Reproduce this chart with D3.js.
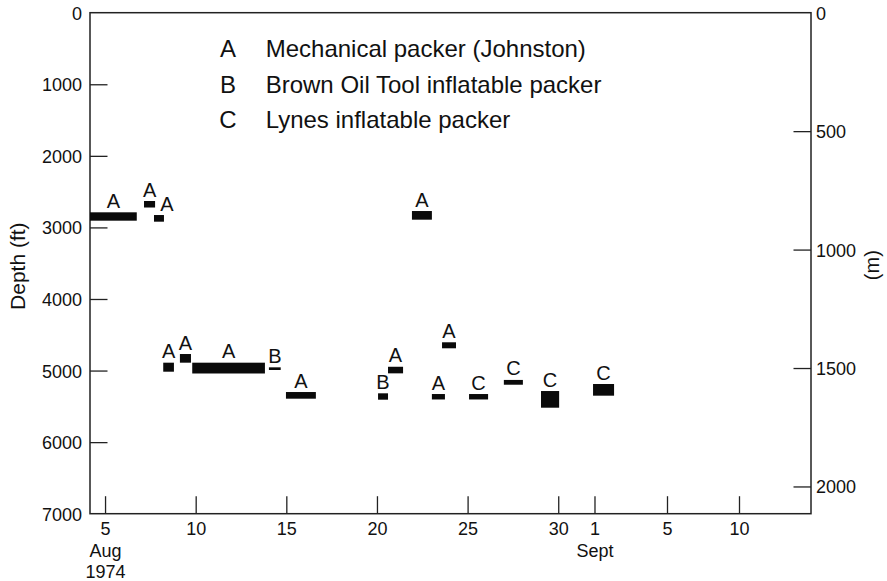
<!DOCTYPE html>
<html lang="en">
<head>
<meta charset="UTF-8"/>
<title>Packer test depths, Aug - Sept 1974</title>
<script src="https://d3js.org/d3.v7.min.js"></script>
<style>
    html, body { margin: 0; padding: 0; background: #fff; }
    svg { display: block; }
    text { font-family: "Liberation Sans", Arial, Helvetica, sans-serif; fill: #111; }
</style>
</head>
<body>
<div id="chart"></div>
<script>
    // Days counted from 1 Aug 1974 (Aug 31 = 31, Sept 1 = 32)
    const packerType = ["A", "A", "A", "A", "A", "A", "B", "A", "B", "A", "A", "A", "A", "C", "C", "C", "C"];
    const startDay = [4.17, 7.15, 7.70, 8.21, 9.13, 9.81, 14.04, 14.98, 20.06, 20.61, 21.93, 23.59, 23.03, 25.08, 27.00, 29.05, 31.92];
    const endDay   = [6.75, 7.76, 8.25, 8.80, 9.74, 13.82, 14.69, 16.63, 20.61, 21.44, 23.03, 24.36, 23.75, 26.13, 28.05, 30.05, 33.08];
    const topFt    = [2789, 2631, 2827, 4890, 4769, 4890, 4955, 5300, 5318, 4947, 2771, 4605, 5328, 5328, 5131, 5286, 5188];
    const bottomFt = [2906, 2722, 2920, 5016, 4890, 5041, 4992, 5393, 5407, 5039, 2892, 4689, 5404, 5404, 5198, 5519, 5351];

    // legend
    const legendCodes = ["A", "B", "C"];
    const legendNames = ["Mechanical packer (Johnston)", "Brown Oil Tool inflatable packer", "Lynes inflatable packer"];

    // axes
    const tickDays = [5, 10, 15, 20, 25, 30, 32, 36, 41];
    const tickLabels = ["5", "10", "15", "20", "25", "30", "1", "5", "10"];
    const tickSubLabels = [["Aug", "1974"], [], [], [], [], [], ["Sept"], [], []];
    const ftTicks = [0, 1000, 2000, 3000, 4000, 5000, 6000, 7000];
    const mTicks = [0, 500, 1000, 1500, 2000];

    const w = 887, h = 581;
    const plotLeft = 90, plotRight = 811, plotTop = 12.7, plotBottom = 513.7;
    const tickLen = 17.5;

    const svg = d3.select("#chart").append("svg")
        .attr("width", w)
        .attr("height", h);

    // the date axis of the original drawing is slightly uneven after 5 Sept
    const x = d3.scaleLinear().domain([4.17, 36, 46]).range([plotLeft, 667, plotRight]);
    const y = d3.scaleLinear().domain([0, 7000]).range([plotTop, plotBottom]);
    const yM = d3.scaleLinear().domain([0, 2115]).range([plotTop, plotBottom]);

    // left axis (ft)
    const gLeft = svg.append("g")
        .attr("transform", `translate(${plotLeft},0)`)
        .call(d3.axisLeft(y).tickValues(ftTicks).tickFormat(d3.format("d"))
            .tickSizeInner(-tickLen).tickSizeOuter(0).tickPadding(8));
    gLeft.selectAll(".tick text").attr("font-size", 18).attr("dy", "0.36em");
    gLeft.selectAll(".tick").filter(d => d === 0 || d === 7000).select("line").remove();

    // right axis (m)
    const gRight = svg.append("g")
        .attr("transform", `translate(${plotRight},0)`)
        .call(d3.axisRight(yM).tickValues(mTicks).tickFormat(d3.format("d"))
            .tickSizeInner(-tickLen).tickSizeOuter(0).tickPadding(5));
    gRight.selectAll(".tick text").attr("font-size", 18).attr("dy", "0.36em");
    gRight.selectAll(".tick").filter(d => d === 0).select("line").remove();

    // bottom axis (dates)
    const gBottom = svg.append("g")
        .attr("transform", `translate(0,${plotBottom})`)
        .call(d3.axisBottom(x).tickValues(tickDays).tickFormat((d, i) => tickLabels[i])
            .tickSizeInner(-tickLen).tickSizeOuter(0).tickPadding(9));
    gBottom.selectAll(".tick text").attr("font-size", 18);
    gBottom.selectAll(".tick").each(function(d, i) {
        tickSubLabels[i].forEach((s, j) => {
            d3.select(this).append("text")
                .attr("y", 43 + j * 21)
                .attr("text-anchor", "middle")
                .attr("font-size", 18)
                .text(s);
        });
    });

    svg.selectAll(".domain").remove();
    svg.selectAll(".tick line").attr("stroke", "#222").attr("stroke-width", 1.3);
    svg.selectAll(".tick text").attr("fill", "#111");

    // frame
    svg.append("rect")
        .attr("x", plotLeft).attr("y", plotTop)
        .attr("width", plotRight - plotLeft).attr("height", plotBottom - plotTop)
        .attr("fill", "none")
        .attr("stroke", "#222")
        .attr("stroke-width", 1.5);

    // axis titles
    svg.append("text")
        .attr("transform", `translate(25,${(plotTop + plotBottom) / 2 + 3}) rotate(-90)`)
        .attr("text-anchor", "middle")
        .attr("font-size", 21)
        .text("Depth (ft)");

    svg.append("text")
        .attr("transform", `translate(879,${(plotTop + plotBottom) / 2 + 2}) rotate(-90)`)
        .attr("text-anchor", "middle")
        .attr("font-size", 20)
        .text("(m)");

    // legend
    const legend = svg.append("g");
    legendCodes.forEach((c, i) => {
        legend.append("text")
            .attr("x", 228).attr("y", 56.7 + i * 35.8)
            .attr("text-anchor", "middle")
            .attr("font-size", 24)
            .text(c);
        legend.append("text")
            .attr("x", 265.7).attr("y", 56.7 + i * 35.8)
            .attr("font-size", 24)
            .text(legendNames[i]);
    });

    // packer intervals
    const tests = packerType.map((p, i) => ({
        type: p, start: startDay[i], end: endDay[i], top: topFt[i], bottom: bottomFt[i]
    }));

    svg.append("g").selectAll("rect")
        .data(tests)
        .enter()
        .append("rect")
        .attr("x", d => x(d.start))
        .attr("y", d => y(d.top))
        .attr("width", d => x(d.end) - x(d.start))
        .attr("height", d => y(d.bottom) - y(d.top))
        .attr("fill", "#0a0a0a");

    // one label sits to the right so it clears its neighbour
    const labelNudge = { 2: 8 };

    svg.append("g").selectAll("text")
        .data(tests)
        .enter()
        .append("text")
        .attr("x", (d, i) => (x(d.start) + x(d.end)) / 2 + (labelNudge[i] || 0))
        .attr("y", d => y(d.top) - 4.5)
        .attr("text-anchor", "middle")
        .attr("font-size", 20)
        .text(d => d.type);
</script>
</body>
</html>
